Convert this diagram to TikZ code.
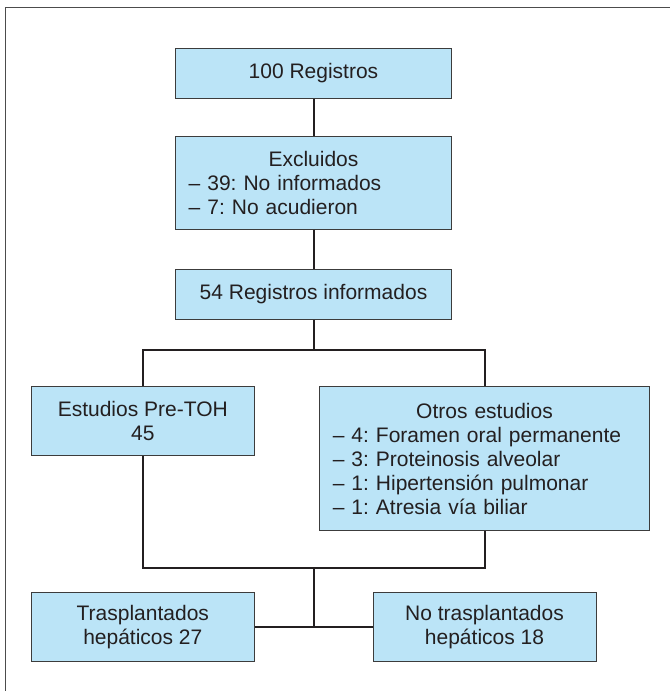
\documentclass[tikz,border=0pt]{standalone}
\usepackage{fontspec}
\setmainfont{Liberation Sans}
\usepackage{tikz}
\frenchspacing

\definecolor{boxfill}{RGB}{187,228,247}
\definecolor{boxline}{RGB}{60,60,60}
\definecolor{ink}{RGB}{35,31,32}

\begin{document}
\begin{tikzpicture}
  [x=1pt, y=-1pt,
   box/.style={draw=boxline, fill=boxfill, line width=1pt, inner sep=0pt,
     text=ink, font=\fontsize{21}{24}\selectfont, align=center},
   listbox/.style={box, align=left, inner xsep=13.4pt},
   conn/.style={draw=ink, line width=2pt},
   frame/.style={draw=black!70, line width=1pt},
  ]
  \useasboundingbox (0,0) rectangle (670,691);
  \draw[frame] (5.7,691) -- (5.7,7.7) -- (670,7.7);

  % main column
  \node[box, minimum width=276.4pt, minimum height=50pt] (reg) at (313.5,73.3) {100 Registros};
  \node[listbox, text width=249.6pt, minimum height=93pt] (excl) at (313.5,182.5)
       {\makebox[\linewidth]{Excluidos}\\
        – 39: No informados\\
        – 7: No acudieron};
  \node[box, minimum width=276.4pt, minimum height=50pt] (inf) at (313.5,294.3) {54 Registros informados};

  % two branches
  \node[box, minimum width=223pt, minimum height=69pt] (pre) at (142.8,421.2) {Estudios Pre-TOH\\45};
  \node[listbox, text width=303.5pt, minimum height=144pt] (otros) at (484.5,458.7)
       {\makebox[\linewidth]{Otros estudios}\\
        – 4: Foramen oral permanente\\
        – 3: Proteinosis alveolar\\
        – 1: Hipertensión pulmonar\\
        – 1: Atresia vía biliar};

  % outcome
  \node[box, minimum width=223pt, minimum height=68.7pt] (tx) at (142.8,626.7) {Trasplantados\\hepáticos 27};
  \node[box, minimum width=223pt, minimum height=68.7pt] (notx) at (484.5,626.7) {No trasplantados\\hepáticos 18};

  \coordinate (split) at (313.5,350);
  \coordinate (join) at (313.5,567.7);
  \coordinate (fork) at (313.5,626.7);

  \draw[conn] (reg) -- (excl);
  \draw[conn] (excl) -- (inf);
  \draw[conn] (inf.south) -- (split);
  \draw[conn] (pre.north) |- (split) -| (otros.north);
  \draw[conn] (pre.south) |- (join) -| (otros.south);
  \draw[conn] (join) -- (fork);
  \draw[conn] (tx.east) -- (notx.west);
\end{tikzpicture}
\end{document}
